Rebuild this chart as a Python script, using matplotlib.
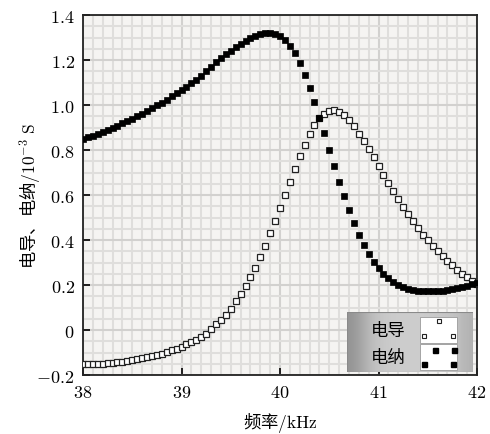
import numpy as np
import matplotlib
matplotlib.use("Agg")
import matplotlib.pyplot as plt
from matplotlib.ticker import MultipleLocator, FuncFormatter
from matplotlib.patches import Rectangle

plt.rcParams["font.family"] = ["Noto Sans CJK SC", "DejaVu Sans"]
plt.rcParams["mathtext.fontset"] = "cm"

# 频率 / kHz，步长 0.05
freq = [
    38.00, 38.05, 38.10, 38.15, 38.20, 38.25, 38.30, 38.35, 38.40, 38.45,
    38.50, 38.55, 38.60, 38.65, 38.70, 38.75, 38.80, 38.85, 38.90, 38.95,
    39.00, 39.05, 39.10, 39.15, 39.20, 39.25, 39.30, 39.35, 39.40, 39.45,
    39.50, 39.55, 39.60, 39.65, 39.70, 39.75, 39.80, 39.85, 39.90, 39.95,
    40.00, 40.05, 40.10, 40.15, 40.20, 40.25, 40.30, 40.35, 40.40, 40.45,
    40.50, 40.55, 40.60, 40.65, 40.70, 40.75, 40.80, 40.85, 40.90, 40.95,
    41.00, 41.05, 41.10, 41.15, 41.20, 41.25, 41.30, 41.35, 41.40, 41.45,
    41.50, 41.55, 41.60, 41.65, 41.70, 41.75, 41.80, 41.85, 41.90, 41.95,
    42.00,
]

# 电导（空心方块）
conductance = [
    -0.153, -0.152, -0.151, -0.150, -0.149, -0.147, -0.145, -0.143, -0.140, -0.137,
    -0.134, -0.130, -0.126, -0.122, -0.117, -0.111, -0.105, -0.098, -0.091, -0.083,
    -0.074, -0.064, -0.054, -0.044, -0.032, -0.016, 0.004, 0.026, 0.046, 0.068,
    0.094, 0.128, 0.160, 0.194, 0.235, 0.276, 0.325, 0.372, 0.429, 0.483,
    0.543, 0.598, 0.658, 0.714, 0.773, 0.824, 0.873, 0.911, 0.942, 0.962,
    0.972, 0.977, 0.968, 0.954, 0.932, 0.906, 0.873, 0.840, 0.806, 0.769,
    0.730, 0.691, 0.654, 0.617, 0.581, 0.548, 0.516, 0.484, 0.452, 0.424,
    0.399, 0.374, 0.352, 0.329, 0.307, 0.287, 0.267, 0.250, 0.234, 0.219,
    0.205,
]

# 电纳（实心方块）
susceptance = [
    0.848, 0.856, 0.864, 0.872, 0.881, 0.890, 0.899, 0.908, 0.918, 0.928,
    0.939, 0.950, 0.962, 0.974, 0.986, 0.998, 1.011, 1.024, 1.038, 1.052,
    1.066, 1.081, 1.097, 1.113, 1.131, 1.150, 1.170, 1.190, 1.208, 1.226,
    1.242, 1.257, 1.271, 1.285, 1.297, 1.308, 1.316, 1.321, 1.321, 1.316,
    1.305, 1.288, 1.263, 1.229, 1.186, 1.135, 1.075, 1.012, 0.943, 0.874,
    0.802, 0.730, 0.660, 0.594, 0.532, 0.476, 0.424, 0.379, 0.339, 0.303,
    0.274, 0.250, 0.230, 0.214, 0.201, 0.191, 0.184, 0.178, 0.175, 0.173,
    0.172, 0.172, 0.173, 0.175, 0.178, 0.182, 0.187, 0.192, 0.197, 0.203,
    0.209,
]

x_ticks = [38, 39, 40, 41, 42]
y_ticks = [-0.2, 0, 0.2, 0.4, 0.6, 0.8, 1.0, 1.2, 1.4]
legend_labels = ["电导", "电纳"]


def fmt_y(v, pos):
    if abs(v) < 1e-9:
        return "$0$"
    return "$%.1f$" % v


def fmt_x(v, pos):
    return "$%d$" % round(v)


fig = plt.figure(figsize=(4.9, 4.35), dpi=100)
ax = fig.add_axes([83 / 490, 1 - 376 / 435, 394 / 490, 360 / 435])
ax.set_facecolor("#f5f4f2")

ax.plot(freq, conductance, ls="none", marker="s", ms=4.0, mfc="white",
        mec="#222222", mew=0.9, zorder=3)
ax.plot(freq, susceptance, ls="none", marker="s", ms=4.7, mfc="black",
        mec="black", mew=0.5, zorder=4)

ax.set_xlim(38, 42)
ax.set_ylim(-0.2, 1.4)
ax.set_xticks(x_ticks)
ax.set_yticks(y_ticks)
ax.xaxis.set_minor_locator(MultipleLocator(0.1))
ax.yaxis.set_minor_locator(MultipleLocator(0.05))
ax.xaxis.set_major_formatter(FuncFormatter(fmt_x))
ax.yaxis.set_major_formatter(FuncFormatter(fmt_y))

ax.grid(which="minor", color="#dfdedc", lw=1.5, zorder=0)
ax.grid(which="major", color="#d2d1cf", lw=1.5, zorder=0)
ax.set_axisbelow(True)

ax.tick_params(which="major", direction="in", length=5, width=1.2,
               labelsize=13, pad=6, top=False, right=False)
ax.tick_params(which="minor", length=0)
for s in ax.spines.values():
    s.set_linewidth(1.3)
    s.set_color("#222222")

ax.set_xlabel("频率$/\\mathrm{kHz}$", fontsize=12.5, va="center")
ax.xaxis.set_label_coords(0.5, -0.13)
ax.set_ylabel("电导、电纳$/10^{-3}\\ \\mathrm{S}$", fontsize=12.5, va="center")
ax.yaxis.set_label_coords(-0.135, 0.5)

# 图例（灰色按钮样式）
lax = fig.add_axes([347 / 490, 1 - 373 / 435, 126 / 490, 60 / 435])
lax.set_xlim(0, 1)
lax.set_ylim(0, 1)
lax.axis("off")
grad = np.array([0.58, 0.68, 0.76, 0.79, 0.80, 0.80, 0.80, 0.79, 0.78, 0.76, 0.70])
lax.imshow(np.tile(grad, (10, 1)), cmap="gray", vmin=0, vmax=1,
           extent=[0, 1, 0, 1], aspect="auto", interpolation="bicubic", zorder=0)
lax.add_patch(Rectangle((0, 0), 1, 1, fill=False, ec="#8a8a8a", lw=0.8, zorder=1))

row_y = [0.70, 0.25]
for i, lab in enumerate(legend_labels):
    lax.text(0.33, row_y[i], lab, ha="center", va="center", fontsize=12.5, zorder=3)
    lax.add_patch(Rectangle((0.58, row_y[i] - 0.21), 0.29, 0.42,
                            fc="white", ec="#9a9a9a", lw=0.6, zorder=2))

lax.plot([0.61, 0.73, 0.84], [row_y[0] - 0.1, row_y[0] + 0.15, row_y[0] - 0.1],
         ls="none", marker="s", ms=3.0, mfc="white", mec="#222222", mew=0.8, zorder=4)
lax.plot([0.61, 0.70, 0.84, 0.85], [row_y[1] - 0.12, row_y[1] + 0.12,
                                    row_y[1] - 0.12, row_y[1] + 0.12],
         ls="none", marker="s", ms=3.6, mfc="black", mec="black", zorder=4)

fig.savefig("out.png", dpi=100)
